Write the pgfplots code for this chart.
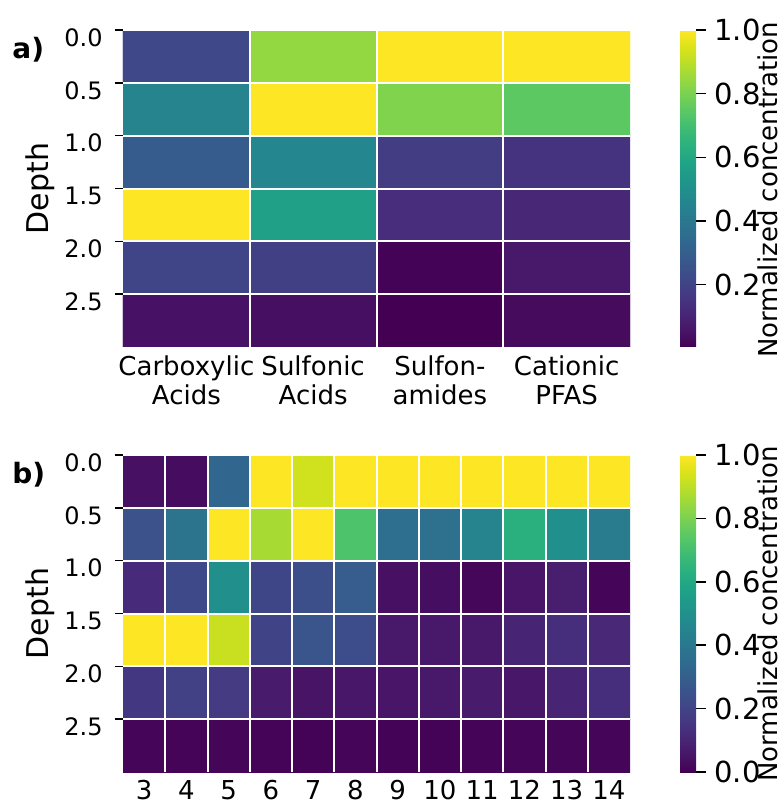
\documentclass[border=0pt]{standalone}
\usepackage{fontspec}
\setmainfont{DejaVu Sans}
\usepackage{pgfplots}
\pgfplotsset{compat=1.18}
\pgfplotsset{
  heat/.style={
    scale only axis, width=253.5pt, height=158.5pt,
    enlargelimits=false, y dir=reverse, axis on top,
    axis line style={draw=none},
    colormap/viridis,
    ymin=-0.5, ymax=5.5,
    ytick={-0.5,0.5,1.5,2.5,3.5,4.5},
    yticklabels={0.0,0.5,1.0,1.5,2.0,2.5},
    ytick pos=left,
    ymajorgrids, xminorgrids,
    major grid style={white, line width=1pt},
    minor grid style={white, line width=1pt},
    tick align=outside,
    ytick style={black, line width=0.75pt},
    xtick style={draw=none},
    major tick length=4pt, minor tick length=0pt,
    yticklabel style={anchor=north east, inner sep=0pt, xshift=-6pt, yshift=1pt, font=\fontsize{12}{14}\selectfont},
    xticklabel style={anchor=north, inner sep=0pt, yshift=0pt, align=center, font=\fontsize{13}{14.5}\selectfont},
    ylabel={Depth},
    ylabel style={at={(axis description cs:-0.193,0.5)}, anchor=north, inner sep=0pt, font=\fontsize{15}{18}\selectfont},
    colorbar,
  },
  cbar/.style={
    at={(parent axis.north east)}, anchor=north west, xshift=16.5pt,
    scale only axis, width=8pt, height=158.5pt,
    y dir=normal, enlargelimits=false,
    axis line style={draw=none},
    ymajorgrids=false, xminorgrids=false,
    xtick=\empty,
    ytick pos=right, yticklabel pos=right,
    ytick style={draw=black, line width=0.75pt},
    major tick length=5pt, tick align=outside,
    yticklabel style={anchor=west, inner sep=0pt, xshift=4pt, yshift=0pt, font=\fontsize{14.5}{17}\selectfont},
    ylabel={},
  },
}
\begin{document}
\begin{tikzpicture}
\path[use as bounding box] (0,0) rectangle (391.5pt,401.5pt);
% ---------------- panel a ----------------
\begin{axis}[heat,
  at={(61.5pt,228pt)}, anchor=south west,
  xmin=-0.5, xmax=3.5,
  xtick={0,1,2,3},
  xticklabels={{Carboxylic\\Acids},{Sulfonic\\Acids},{Sulfon-\\amides},{Cationic\\PFAS}},
  minor xtick={0.5,1.5,2.5},
  point meta min=0.004, point meta max=1,
  colorbar style={cbar,
    ytick={0.2,0.4,0.6,0.8,1.0},
    yticklabels={0.2,0.4,0.6,0.8,1.0}},
]
\addplot[matrix plot*, mesh/cols=4, point meta=explicit] table[meta=c]{
x y c
0 0 0.22
1 0 0.84
2 0 1.0
3 0 1.0
0 1 0.45
1 1 1.0
2 1 0.81
3 1 0.75
0 2 0.29
1 2 0.46
2 2 0.18
3 2 0.15
0 3 1.0
1 3 0.57
2 3 0.13
3 3 0.11
0 4 0.21
1 4 0.19
2 4 0.01
3 4 0.07
0 5 0.05
1 5 0.04
2 5 0.004
3 5 0.03
};
\end{axis}
\node[anchor=north west, inner sep=0pt, font=\bfseries\fontsize{14}{17}\selectfont] at (6pt,383pt) {a)};
\node[rotate=90, anchor=north, inner sep=0pt, font=\fontsize{13}{15}\selectfont] at (378.5pt,306.5pt) {Normalized concentration};
% ---------------- panel b ----------------
\begin{axis}[heat,
  at={(61.5pt,15.5pt)}, anchor=south west,
  xmin=-0.5, xmax=11.5,
  xtick={0,1,2,3,4,5,6,7,8,9,10,11},
  xticklabels={3,4,5,6,7,8,9,10,11,12,13,14},
  minor xtick={0.5,1.5,2.5,3.5,4.5,5.5,6.5,7.5,8.5,9.5,10.5},
  point meta min=0, point meta max=1,
  colorbar style={cbar,
    ytick={0,0.2,0.4,0.6,0.8,1.0},
    yticklabels={0.0,0.2,0.4,0.6,0.8,1.0}},
]
\addplot[matrix plot*, mesh/cols=12, point meta=explicit] table[meta=c]{
x y c
0 0 0.04
1 0 0.03
2 0 0.33
3 0 1.0
4 0 0.93
5 0 1.0
6 0 1.0
7 0 1.0
8 0 1.0
9 0 1.0
10 0 1.0
11 0 1.0
0 1 0.25
1 1 0.38
2 1 1.0
3 1 0.87
4 1 1.0
5 1 0.72
6 1 0.36
7 1 0.37
8 1 0.45
9 1 0.63
10 1 0.50
11 1 0.41
0 2 0.12
1 2 0.22
2 2 0.50
3 2 0.21
4 2 0.24
5 2 0.29
6 2 0.04
7 2 0.035
8 2 0.015
9 2 0.055
10 2 0.08
11 2 0.01
0 3 1.0
1 3 1.0
2 3 0.92
3 3 0.20
4 3 0.26
5 3 0.23
6 3 0.065
7 3 0.065
8 3 0.065
9 3 0.10
10 3 0.13
11 3 0.11
0 4 0.16
1 4 0.19
2 4 0.17
3 4 0.07
4 4 0.05
5 4 0.06
6 4 0.055
7 4 0.065
8 4 0.07
9 4 0.06
10 4 0.10
11 4 0.13
0 5 0.01
1 5 0.008
2 5 0.01
3 5 0.008
4 5 0.005
5 5 0.01
6 5 0.005
7 5 0.005
8 5 0.008
9 5 0.01
10 5 0.01
11 5 0.01
};
\end{axis}
\node[anchor=north west, inner sep=0pt, font=\bfseries\fontsize{14}{17}\selectfont] at (6pt,170.5pt) {b)};
\node[rotate=90, anchor=north, inner sep=0pt, font=\fontsize{13}{15}\selectfont] at (378.5pt,94.5pt) {Normalized concentration};
\end{tikzpicture}
\end{document}
